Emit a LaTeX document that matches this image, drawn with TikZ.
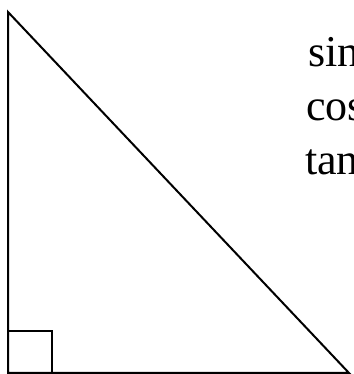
\documentclass[tikz,border=0pt]{standalone}
\usepackage{fontspec}
\setmainfont{Liberation Serif}
\begin{document}
\begin{tikzpicture}[x=1pt,y=1pt,
  edge/.style={draw=black,line width=2pt,line join=miter},
  lbl/.style={anchor=base west,inner sep=0pt,font=\fontsize{44}{53}\selectfont}]
\useasboundingbox (0,0) rectangle (353,374);
\clip (0,0) rectangle (353,374);
\coordinate (T) at (8,362);
\coordinate (O) at (8,1);
\coordinate (R) at (349,1);
\draw[edge] (T) -- (O) -- (R) -- cycle;
\draw[edge] (8,43) -- (52,43) -- (52,1);
\node[lbl] (sin) at (308,307) {sin};
\node[lbl] (cos) at (306,253) {cos};
\node[lbl] (tan) at (305,199) {tan};
\end{tikzpicture}
\end{document}
